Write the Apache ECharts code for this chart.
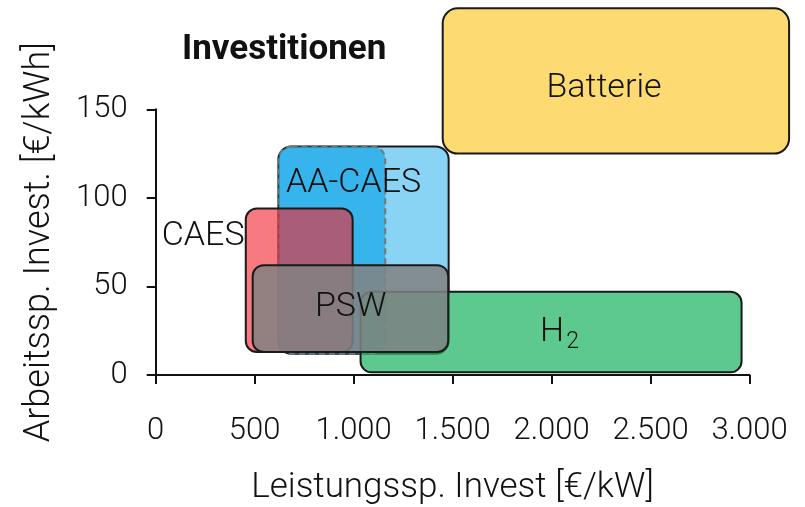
<!DOCTYPE html>
<html>
<head>
<meta charset="utf-8">
<script src="https://cdn.jsdelivr.net/npm/echarts@6/dist/echarts.min.js"></script>
<style>
  html, body { margin: 0; padding: 0; background: #fff; }
  #chart { width: 805px; height: 507px; }
</style>
</head>
<body>
<div id="chart"></div>
<script>
// Boxes, drawn in this order (later ones on top)
const boxNames = ['AA-CAES', 'AA-CAES (Kern)', 'CAES', 'H2', 'PSW', 'Batterie'];
const xMin = [620, 620, 455, 1035, 490, 1450];
const xMax = [1480, 1160, 995, 2960, 1478, 3200];
const yMin = [12, 12, 13, 1.5, 13, 125];
const yMax = [129, 129, 94, 47, 62, 207];

// label anchors in data units
const labelText = ['AA-CAES', '', 'CAES', 'H2', 'PSW', 'Batterie'];
const labelX = [1000, 0, 240, 2040, 985, 2265];
const labelY = [108, 0, 78, 24, 38, 162];

const FONT = 'Roboto';

const boxStyles = [
  { fill: 'rgba(40,175,235,0.55)', stroke: '#1a1a1a', dash: null },
  { fill: 'rgba(0,160,230,0.6)', stroke: '#777777', dash: [6, 4] },
  { fill: 'rgba(240,40,50,0.62)', stroke: '#1a1a1a', dash: null },
  { fill: 'rgba(30,180,100,0.72)', stroke: '#1a1a1a', dash: null },
  { fill: 'rgba(130,130,130,0.85)', stroke: '#1a1a1a', dash: null },
  { fill: 'rgba(252,205,60,0.72)', stroke: '#1a1a1a', dash: null }
];
const boxRadius = [13, 13, 11, 11, 11, 15];

const boxData = boxNames.map((n, i) => [xMin[i], yMin[i], xMax[i], yMax[i]]);
const labelData = labelText.map((t, i) => [labelX[i], labelY[i], t]);

const chart = echarts.init(document.getElementById('chart'));

const option = {
  animation: false,
  title: {
    text: 'Investitionen',
    left: 177,
    top: 28,
    textStyle: { fontFamily: FONT, fontWeight: 'bold', fontSize: 35, color: '#111' }
  },
  grid: { left: 155.7, right: 55.5, top: 109.3, bottom: 132, containLabel: false, outerBoundsMode: 'none' },
  xAxis: {
    type: 'value',
    min: 0,
    max: 3000,
    interval: 500,
    name: 'Leistungssp. Invest [€/kW]',
    nameLocation: 'middle',
    nameGap: 96,
    nameTextStyle: { fontFamily: FONT, fontWeight: 300, fontSize: 35, color: '#111' },
    axisLine: { lineStyle: { color: '#111', width: 2 } },
    axisTick: { show: true, length: 9, lineStyle: { color: '#111', width: 2 } },
    axisLabel: {
      margin: 41,
      fontFamily: FONT,
      fontWeight: 300,
      fontSize: 31,
      color: '#111',
      formatter: (v) => v < 1000 ? String(v) : Math.floor(v / 1000) + '.' + String(v % 1000).padStart(3, '0')
    },
    splitLine: { show: false }
  },
  yAxis: {
    type: 'value',
    min: 0,
    max: 150,
    interval: 50,
    name: 'Arbeitssp. Invest. [€/kWh]',
    nameLocation: 'middle',
    nameGap: 98,
    nameTextStyle: { fontFamily: FONT, fontWeight: 300, fontSize: 36, color: '#111' },
    axisLine: { show: true, lineStyle: { color: '#111', width: 2 } },
    axisTick: { show: true, length: 9, lineStyle: { color: '#111', width: 2 } },
    axisLabel: { margin: 28, fontFamily: FONT, fontWeight: 300, fontSize: 31, color: '#111' },
    splitLine: { show: false }
  },
  series: [
    {
      type: 'custom',
      clip: false,
      data: boxData,
      renderItem: (params, api) => {
        const i = params.dataIndex;
        const p0 = api.coord([api.value(0), api.value(3)]);
        const p1 = api.coord([api.value(2), api.value(1)]);
        const st = boxStyles[i];
        return {
          type: 'rect',
          shape: { x: p0[0], y: p0[1], width: p1[0] - p0[0], height: p1[1] - p0[1], r: boxRadius[i] },
          style: {
            fill: st.fill,
            stroke: st.stroke,
            lineWidth: 2,
            lineDash: st.dash
          }
        };
      }
    },
    {
      type: 'custom',
      clip: false,
      data: labelData,
      renderItem: (params, api) => {
        const i = params.dataIndex;
        const t = labelText[i];
        if (!t) return null;
        const p = api.coord([api.value(0), api.value(1)]);
        const txt = t === 'H2' ? '{h|H}{s|2}' : '{h|' + t + '}';
        return {
          type: 'text',
          x: p[0],
          y: p[1],
          style: {
            text: txt,
            align: 'center',
            verticalAlign: 'middle',
            fill: '#111',
            rich: {
              h: { fontFamily: FONT, fontWeight: 300, fontSize: 34, lineHeight: 36, fill: '#111' },
              s: { fontFamily: FONT, fontWeight: 300, fontSize: 23, lineHeight: 36, fill: '#111', padding: [20, 0, 0, 2] }
            }
          }
        };
      }
    }
  ]
};

chart.setOption(option);
</script>
</body>
</html>
